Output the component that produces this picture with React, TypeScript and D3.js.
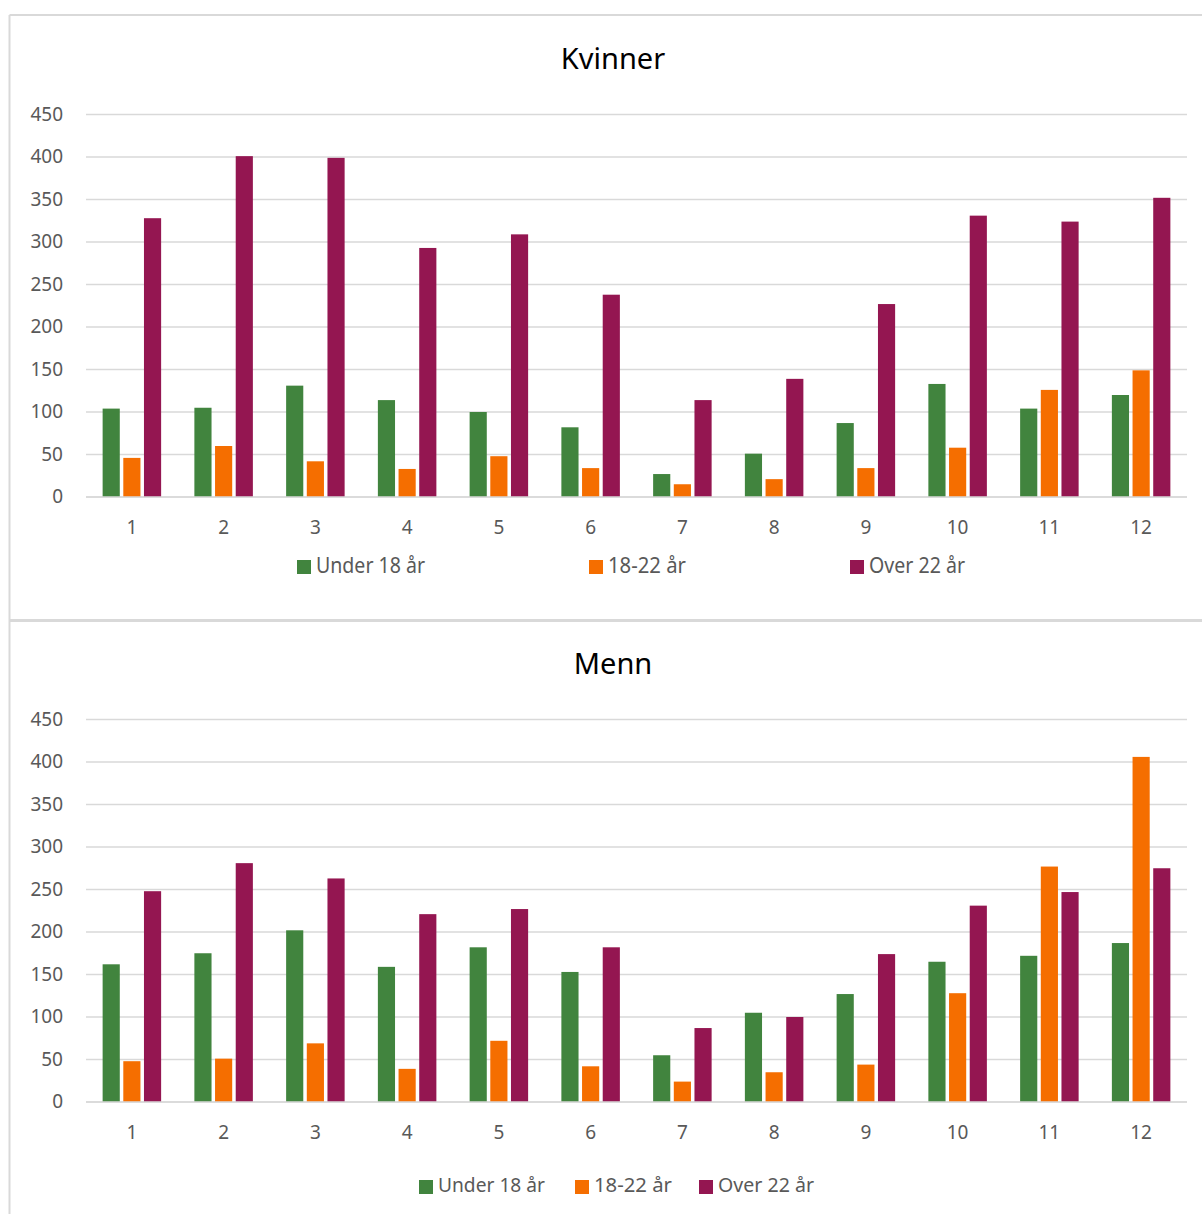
import React from "react";
import * as d3 from "d3";

const categories = ["1", "2", "3", "4", "5", "6", "7", "8", "9", "10", "11", "12"];
const seriesNames = ["Under 18 år", "18-22 år", "Over 22 år"];
const seriesColors = ["#41843e", "#f56e00", "#941651"];
const yTicks = [0, 50, 100, 150, 200, 250, 300, 350, 400, 450];

const kvinnerUnder18 = [104, 105, 131, 114, 100, 82, 27, 51, 87, 133, 104, 120];
const kvinner18to22 = [46, 60, 42, 33, 48, 34, 15, 21, 34, 58, 126, 149];
const kvinnerOver22 = [328, 401, 399, 293, 309, 238, 114, 139, 227, 331, 324, 352];

const mennUnder18 = [162, 175, 202, 159, 182, 153, 55, 105, 127, 165, 172, 187];
const menn18to22 = [48, 51, 69, 39, 72, 42, 24, 35, 44, 128, 277, 406];
const mennOver22 = [248, 281, 263, 221, 227, 182, 87, 100, 174, 231, 247, 275];

const FONT = "'Noto Sans', 'Open Sans', sans-serif";
const TEXT = "#595959";

type PanelProps = {
  title: string;
  series: number[][];
  top: number;
  legendX: number[];
  legendTextW: number[];
  condensed: boolean;
};

function Panel({ title, series, top, legendX, legendTextW, condensed }: PanelProps) {
  const x = d3.scaleBand<string>().domain(categories).range([86, 1187]);
  const sub = d3.scaleBand<string>().domain(seriesNames).range([0, 58.5]).paddingInner(0.17);
  const y = d3.scaleLinear().domain([0, 450]).range([top + 482, top + 99.5]);
  const groupW = 58.5;
  return (
    <g>
      <text x={613} y={top + 46} textAnchor="middle" dominantBaseline="middle"
        fontFamily={FONT} fontSize={29} fill="#000">{title}</text>
      {yTicks.map((t) => (
        <g key={t}>
          <line x1={86} x2={1187} y1={y(t)} y2={y(t)} stroke="#d9d9d9" strokeWidth={1.5} />
          <text x={63} y={y(t) + 1} textAnchor="end" dominantBaseline="middle"
            fontFamily={FONT} fontSize={19} fill={TEXT}>{t}</text>
        </g>
      ))}
      {categories.map((c, i) => {
        const cx = (x(c) as number) + x.bandwidth() / 2;
        return (
          <g key={c}>
            {series.map((s, k) => (
              <rect key={k}
                x={cx - groupW / 2 + (sub(seriesNames[k]) as number)}
                y={y(s[i])}
                width={sub.bandwidth()}
                height={y(0) - y(s[i])}
                fill={seriesColors[k]} />
            ))}
            <text x={cx} y={top + 514} textAnchor="middle" dominantBaseline="middle"
              fontFamily={FONT} fontSize={19} fill={TEXT}>{c}</text>
          </g>
        );
      })}
      <line x1={86} x2={1187} y1={y(0)} y2={y(0)} stroke="#d9d9d9" strokeWidth={1.5} />
      {seriesNames.map((n, k) => {
        const ly = condensed ? top + 552 : top + 567;
        return (
          <g key={n}>
            <rect x={legendX[k]} y={ly - 7} width={14} height={14} fill={seriesColors[k]} />
            <text x={legendX[k] + 19} y={ly} dominantBaseline="middle"
              fontFamily={FONT} fontSize={condensed ? 21 : 20} fill={TEXT}
              textLength={legendTextW[k]} lengthAdjust="spacingAndGlyphs">{n}</text>
          </g>
        );
      })}
    </g>
  );
}

export default function App() {
  return (
    <svg width={1202} height={1214} style={{ position: "absolute", left: 0, top: 0, background: "#fff" }}>
      <rect x={0} y={0} width={1202} height={1214} fill="#fff" />
      <line x1={9.5} x2={1202} y1={15} y2={15} stroke="#d9d9d9" strokeWidth={2} />
      <line x1={9.5} x2={9.5} y1={15} y2={1214} stroke="#d9d9d9" strokeWidth={2} />
      <line x1={9.5} x2={1202} y1={620.5} y2={620.5} stroke="#d9d9d9" strokeWidth={3} />
      <Panel title="Kvinner" series={[kvinnerUnder18, kvinner18to22, kvinnerOver22]} top={15}
        legendX={[297, 589, 850]} legendTextW={[109, 78, 96]} condensed={true} />
      <Panel title="Menn" series={[mennUnder18, menn18to22, mennOver22]} top={620}
        legendX={[419, 575, 699]} legendTextW={[107, 78, 96]} condensed={false} />
    </svg>
  );
}
